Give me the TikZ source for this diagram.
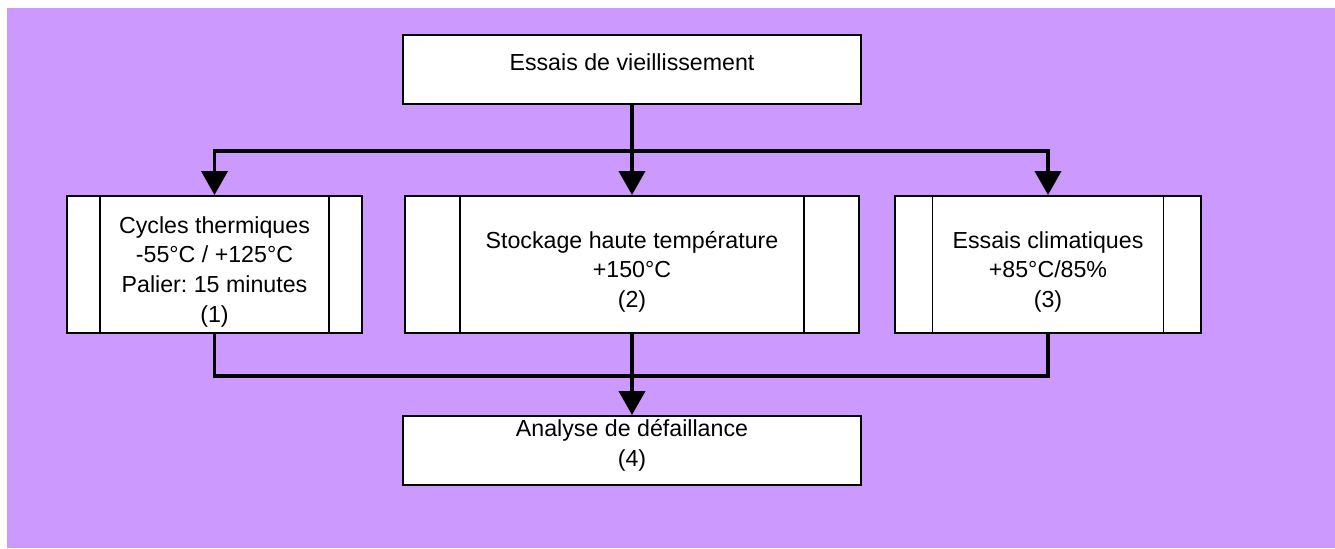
\documentclass[tikz,border=0pt]{standalone}
\usepackage{fontspec}
\setmainfont{Liberation Sans}
\usepackage{tikz}
\usetikzlibrary{arrows.meta}
\frenchspacing

\definecolor{fondviolet}{HTML}{CC99FF}

\tikzset{
  boite/.style={draw, fill=white, line width=1.1pt, inner sep=0pt, align=center,
    font=\fontsize{13.2}{17}\selectfont},
  bargap/.store in=\bargap, bargap=0.66cm,
  procede/.style={boite, minimum height=2.74cm, path picture={
      \draw[line width=1.1pt] ([xshift=\bargap]path picture bounding box.south west)
        -- ([xshift=\bargap]path picture bounding box.north west);
      \draw[line width=1.1pt] ([xshift=-\bargap]path picture bounding box.south east)
        -- ([xshift=-\bargap]path picture bounding box.north east);}},
  lien/.style={line width=2.2pt},
  fleche/.style={lien, -{Triangle[width=0.52cm,length=0.48cm]}}
}

\begin{document}
\begin{tikzpicture}
  % Fond
  \useasboundingbox (0,0) rectangle (26.7,10.96);
  \fill[fondviolet] (0.14,0) rectangle (26.7,10.8);

  % Boites
  \node[boite, minimum width=9.16cm, minimum height=1.38cm, text depth=8.5pt] (essais) at (12.64,9.57) {Essais de vieillissement};
  \node[procede, minimum width=5.9cm, text height=69pt] (cycles) at (4.29,5.67) {Cycles thermiques\\-55°C / +125°C\\Palier: 15 minutes\\(1)};
  \node[procede, bargap=1.1cm, minimum width=9.08cm, text height=52pt] (stockage) at (12.64,5.67) {Stockage haute température\\+150°C\\(2)};
  \node[procede, bargap=0.75cm, minimum width=6.12cm, text height=52pt] (climat) at (20.96,5.67) {Essais climatiques\\+85°C/85\%\\(3)};
  \node[boite, minimum width=9.16cm, minimum height=1.38cm, text depth=8.3pt] (analyse) at (12.64,1.95) {Analyse de défaillance\\(4)};

  % Liaisons
  \coordinate (partage) at (12.64,7.94);
  \coordinate (reunion) at (12.64,3.44);
  \draw[lien] (essais) -- (partage);
  \draw[fleche] (partage) -| (cycles);
  \draw[fleche] (partage) -- (stockage);
  \draw[fleche] (partage) -| (climat);
  \draw[lien] (cycles) |- (reunion);
  \draw[lien] (climat) |- (reunion);
  \draw[fleche] (stockage) -- (analyse);
\end{tikzpicture}
\end{document}
